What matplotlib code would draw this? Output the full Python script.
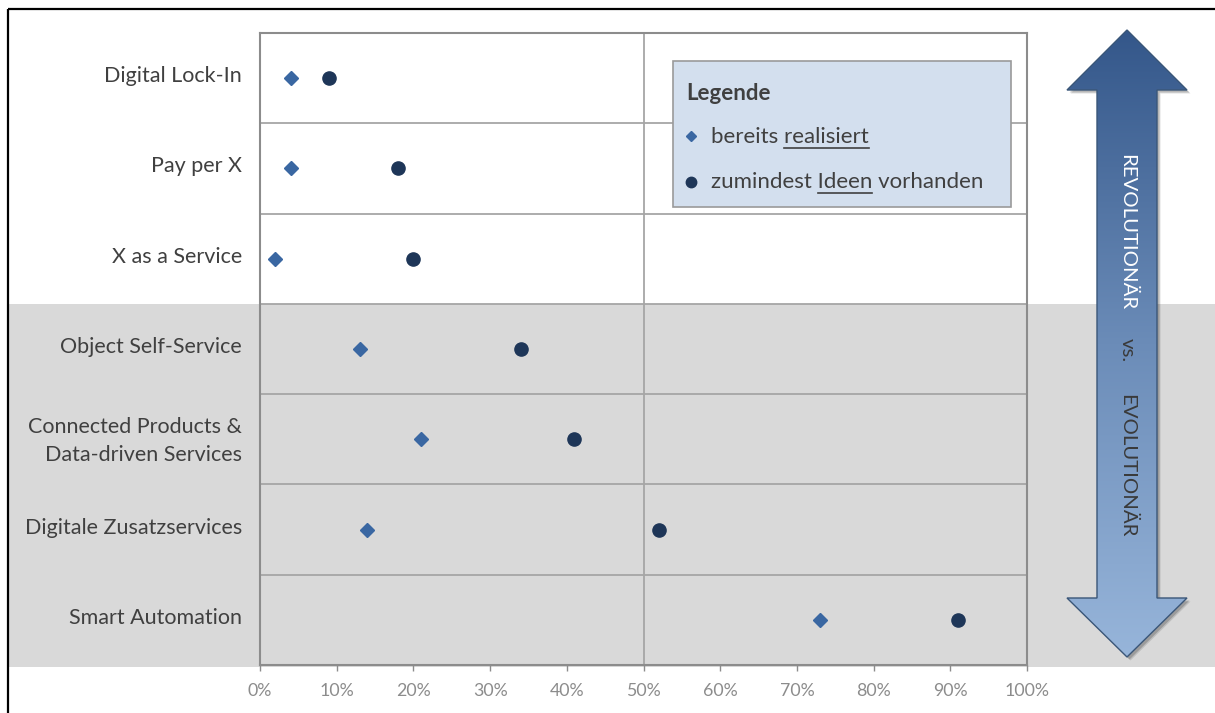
import numpy as np
import matplotlib.pyplot as plt
from matplotlib.patches import Polygon, Rectangle
from matplotlib.colors import LinearSegmentedColormap
from matplotlib import transforms

plt.rcParams['font.family'] = ['Lato', 'DejaVu Sans']

# share of companies per business model pattern (percent)
categories = ["Digital Lock-In", "Pay per X", "X as a Service", "Object Self-Service",
              "Connected Products &\nData-driven Services", "Digitale Zusatzservices",
              "Smart Automation"]
realisiert = [4, 4, 2, 13, 21, 14, 73]
ideen = [9, 18, 20, 34, 41, 52, 91]
x_ticks = [0, 10, 20, 30, 40, 50, 60, 70, 80, 90, 100]
n_revolutionaer = 3   # top rows, drawn on white

W, H = 1215, 713
TXT = '#404040'
C_DIA = '#3a67a2'
C_DOT = '#1e3658'
FS = 16

fig = plt.figure(figsize=(W / 100, H / 100), dpi=100)
ax = fig.add_axes([260 / W, 1 - 665 / H, 767 / W, 632 / H])
ax.set_facecolor('none')

y = np.arange(len(categories))
ax.set_xlim(0, 100)
ax.set_ylim(len(categories) - 0.5, -0.5)

ax.plot(realisiert, y, 'D', color=C_DIA, ms=7, ls='none', zorder=4)
ax.plot(ideen, y, 'o', color=C_DOT, ms=9.5, ls='none', zorder=4)

for b in np.arange(0.5, len(categories) - 0.5):
    ax.axhline(b, color='#a6a6a6', lw=1.3, zorder=1)
ax.axvline(50, color='#a6a6a6', lw=1.3, zorder=1)

for s in ax.spines.values():
    s.set_color('#8c8c8c')
    s.set_linewidth(1.5)

ax.set_yticks(y)
ax.set_yticklabels(categories, fontsize=15.5, color=TXT, linespacing=1.5)
ax.tick_params(axis='y', length=0, pad=13)
# lift the category labels a little above the row centre
lift = transforms.ScaledTranslation(0, 4 / 100, fig.dpi_scale_trans)
for lab in ax.get_yticklabels():
    lab.set_transform(lab.get_transform() + lift)
ax.set_xticks(x_ticks)
ax.set_xticklabels([f"{t}%" for t in x_ticks])
ax.tick_params(axis='x', direction='out', length=4, color='#8c8c8c', width=1,
               labelsize=12.8, labelcolor='#8c8c8c', pad=9)

# grey band behind the evolutionary rows, across the whole figure
band_tr = transforms.blended_transform_factory(fig.transFigure, ax.transData)
fig.add_artist(Rectangle((8 / W, n_revolutionaer - 0.5), 1.0,
                         len(categories) - n_revolutionaer + 0.025,
                         transform=band_tr, facecolor='#d9d9d9', edgecolor='none',
                         zorder=-1))

# overlay in pixel coordinates for frame, legend and arrow
ov = fig.add_axes([0, 0, 1, 1], zorder=3)
ov.set_facecolor('none')
ov.axis('off')

ov.add_patch(Rectangle((8, 9), W + 20, H + 20, fill=False, edgecolor='black',
                       lw=1.6, clip_on=False))

# double arrow with vertical gradient
pts = [(1127, 30), (1187, 90), (1157, 90), (1157, 598), (1187, 598), (1127, 657),
       (1067, 598), (1097, 598), (1097, 90), (1067, 90)]
for off, a in [(3.5, 0.12), (2.5, 0.18)]:
    ov.add_patch(Polygon([(px + off, py + off) for px, py in pts], closed=True,
                         facecolor='black', edgecolor='none', alpha=a, zorder=3))
arrow = Polygon(pts, closed=True, facecolor='none', edgecolor='none', zorder=4)
ov.add_patch(arrow)
cmap = LinearSegmentedColormap.from_list('arr', ['#34578a', '#6b8cb8', '#97b5da'])
grad = np.linspace(0, 1, 256).reshape(-1, 1)
im = ov.imshow(grad, extent=[1067, 1187, 657, 30], cmap=cmap, aspect='auto', zorder=4)
im.set_clip_path(arrow)
ov.add_patch(Polygon(pts, closed=True, fill=False, edgecolor='#3a5678', lw=1, zorder=5))

ov.text(1127, 232, "REVOLUTIONÄR", rotation=-90, ha='center', va='center',
        color='white', fontsize=14.7, zorder=6)
ov.text(1127, 350, "vs.", rotation=-90, ha='center', va='center',
        color='#3a3a3a', fontsize=14.7, zorder=6)
ov.text(1127, 466, "EVOLUTIONÄR", rotation=-90, ha='center', va='center',
        color='#3a3a3a', fontsize=14.7, zorder=6)

# legend box
ov.add_patch(Rectangle((673, 61), 338, 146, facecolor='#d3dfee', edgecolor='#9a9a9a',
                       lw=1.2, zorder=6))
ov.text(686, 93, "Legende", fontsize=16, fontweight='bold', color=TXT,
        va='center', ha='left', zorder=7)
ov.plot(691, 136, 'D', color=C_DIA, ms=5.5, zorder=7)
ov.plot(691, 182, 'o', color=C_DOT, ms=7.5, zorder=7)

r = fig.canvas.get_renderer()


def width(s):
    t = ov.text(0, 0, s, fontsize=FS)
    w = t.get_window_extent(r).width
    t.remove()
    return w


space = width("x x") - width("xx")
for base, pre, word, post in [(143, "bereits", "realisiert", ""),
                              (188, "zumindest", "Ideen", "vorhanden")]:
    ov.text(711, base, f"{pre} {word}" + (f" {post}" if post else ""), fontsize=FS,
            color=TXT, va='baseline', ha='left', zorder=7)
    x0 = 711 + width(pre) + space
    x1 = x0 + width(word)
    ov.plot([x0, x1], [base + 5, base + 5], color=TXT, lw=1.2, zorder=7)

ov.set_xlim(0, W)
ov.set_ylim(H, 0)

fig.savefig('out.png', dpi=100)
